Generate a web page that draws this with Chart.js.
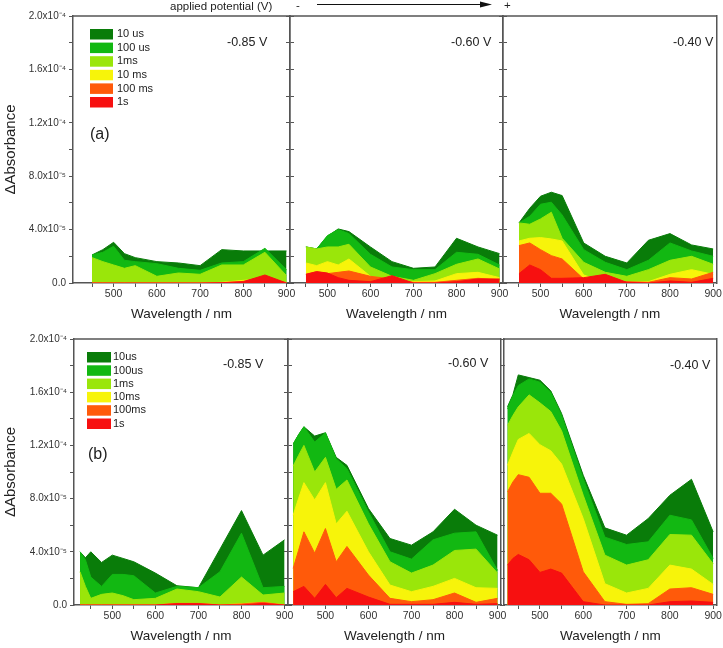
<!DOCTYPE html>
<html>
<head>
<meta charset="utf-8">
<script src="https://cdn.jsdelivr.net/npm/chart.js@4.4.1/dist/chart.umd.min.js"></script>
<style>
  body { margin: 0; background: #fff; }
  #wrap { position: relative; width: 723px; height: 648px; }
  #wrap canvas { position: absolute; left: 0; top: 0; }
</style>
</head>
<body>
<div id="wrap"></div>
<script>
// wavelengths (nm)
const wavelengthsA = [450, 475, 500, 525, 550, 600, 650, 700, 750, 800, 850, 900]
const wavelengthsB = [425, 437.5, 450, 475, 500, 525, 550, 600, 650, 700, 750, 800, 850, 900]

const seriesLabelsA = ['10 us', '100 us', '1ms', '10 ms', '100 ms', '1s']
const seriesLabelsB = ['10us', '100us', '1ms', '10ms', '100ms', '1s']
const seriesColors = ['#097c09', '#12b812', '#9ae60a', '#f7f40a', '#ff5a0a', '#f71010']

const xTickValues = [450, 500, 550, 600, 650, 700, 750, 800, 850, 900]
const yTickValues = [0, 2, 4, 6, 8, 10, 12, 14, 16, 18, 20]
const yTickLabels = ['0.0', '', '4.0x10⁻⁵', '', '8.0x10⁻⁵', '', '1.2x10⁻⁴', '', '1.6x10⁻⁴', '', '2.0x10⁻⁴']

// ΔAbsorbance, in units of 1e-5
// (a) -0.85 V
const a085_10us = [2.1, 2.5, 3.05, 2.2, 1.9, 1.6, 1.5, 1.3, 2.5, 2.4, 2.4, 2.4]
const a085_100us = [2.1, 2.3, 2.75, 1.7, 1.6, 1.45, 1.1, 0.95, 1.5, 1.6, 2.6, 1.0]
const a085_1ms = [1.9, 1.6, 1.35, 1.1, 1.3, 0.5, 0.75, 0.65, 1.35, 1.35, 2.3, 0.55]
const a085_10ms = [0, 0, 0, 0, 0, 0, 0, 0, 0.05, 0.2, 0.3, 0]
const a085_100ms = [0, 0, 0, 0, 0, 0, 0, 0, 0.02, 0.12, 0.5, 0]
const a085_1s = [0, 0, 0, 0, 0, 0, 0, 0, 0.02, 0.1, 0.6, 0]
// (a) -0.60 V
const a060_10us = [2.7, 2.55, 3.5, 4.05, 3.85, 2.7, 1.6, 1.1, 1.2, 3.35, 2.7, 2.2]
const a060_100us = [2.7, 2.55, 3.55, 4.0, 3.7, 2.15, 1.2, 1.0, 1.0, 2.3, 2.15, 1.35]
const a060_1ms = [2.7, 2.55, 2.7, 2.7, 2.9, 1.2, 0.5, 0.2, 0.7, 1.4, 1.8, 1.05]
const a060_10ms = [1.5, 1.3, 1.6, 1.35, 1.8, 0.5, 0.2, 0.1, 0.15, 0.7, 0.8, 0.4]
const a060_100ms = [0.65, 0.85, 0.7, 0.8, 0.9, 0.5, 0.3, 0.05, 0.05, 0.2, 0.35, 0.25]
const a060_1s = [0.65, 0.85, 0.75, 0.4, 0.2, 0.1, 0.55, 0, 0, 0.1, 0.3, 0.3]
// (a) -0.40 V
const a040_10us = [4.5, 5.6, 6.5, 6.8, 6.55, 3.0, 2.0, 1.5, 3.2, 3.7, 2.85, 2.55]
const a040_100us = [4.5, 5.0, 5.9, 6.05, 5.1, 2.5, 1.55, 1.0, 1.7, 3.0, 2.4, 2.0]
const a040_1ms = [4.5, 4.4, 4.8, 5.3, 3.35, 1.55, 0.8, 0.5, 1.0, 1.7, 2.0, 1.4]
const a040_10ms = [3.15, 3.35, 3.4, 3.3, 3.15, 0.6, 0.05, 0.05, 0.1, 0.65, 1.0, 0.65]
const a040_100ms = [2.8, 3.0, 2.5, 2.05, 1.8, 0.3, 0.15, 0.1, 0.05, 0.4, 0.3, 0.8]
const a040_1s = [0.7, 1.35, 1.0, 0.35, 0.35, 0.4, 0.65, 0.05, 0, 0.15, 0.05, 0.35]
// (b) -0.85 V
const b085_10us = [4.0, 3.55, 4.0, 3.2, 3.75, 3.5, 3.25, 2.4, 1.45, 1.3, 4.2, 7.1, 3.75, 4.9]
const b085_100us = [4.0, 3.4, 2.1, 1.4, 2.3, 2.3, 2.2, 0.9, 1.4, 1.3, 2.5, 5.4, 1.3, 1.4]
const b085_1ms = [2.5, 1.4, 0.5, 0.8, 0.9, 0.7, 0.4, 0.5, 1.2, 1.0, 0.6, 2.1, 0.75, 0.9]
const b085_10ms = [0, 0, 0, 0, 0, 0, 0, 0, 0.12, 0.12, 0, 0.1, 0.2, 0]
const b085_100ms = [0, 0, 0, 0, 0, 0, 0, 0, 0.12, 0.12, 0, 0.08, 0.2, 0]
const b085_1s = [0, 0, 0, 0, 0, 0, 0, 0, 0.1, 0.1, 0, 0, 0.12, 0]
// (b) -0.60 V
const b060_10us = [12.1, 12.8, 13.4, 12.7, 12.95, 11.1, 10.5, 7.25, 5.0, 4.5, 5.5, 7.2, 6.0, 5.25]
const b060_100us = [12.1, 12.8, 13.4, 12.25, 12.95, 11.0, 10.25, 7.0, 4.0, 3.45, 4.9, 5.4, 5.5, 2.6]
const b060_1ms = [10.45, 11.25, 12.0, 10.0, 11.1, 8.7, 9.4, 6.1, 3.25, 2.4, 3.0, 4.1, 4.2, 2.4]
const b060_10ms = [6.75, 8.0, 9.2, 7.9, 9.2, 6.1, 7.05, 4.0, 1.5, 1.0, 1.4, 2.0, 1.3, 1.25]
const b060_100ms = [2.75, 4.1, 5.5, 3.9, 5.75, 3.25, 4.4, 2.25, 0.5, 0.25, 0.4, 0.9, 0.2, 0.5]
const b060_1s = [1.0, 1.2, 1.4, 0.5, 1.55, 0.55, 1.25, 0.6, 0.05, 0.05, 0.05, 0.2, 0.05, 0.1]
// (b) -0.40 V
const b040_10us = [14.9, 15.8, 17.3, 17.1, 16.9, 16.1, 14.4, 9.75, 5.8, 5.25, 6.5, 8.25, 9.45, 5.5]
const b040_100us = [14.75, 15.75, 16.5, 17.0, 16.75, 16.0, 14.25, 9.5, 5.1, 4.55, 4.75, 6.75, 6.4, 3.5]
const b040_1ms = [13.5, 14.25, 14.9, 15.8, 15.2, 14.55, 13.1, 8.25, 3.75, 3.0, 3.4, 5.3, 5.25, 3.1]
const b040_10ms = [10.5, 11.5, 12.45, 12.9, 12.05, 11.6, 10.6, 6.5, 1.6, 0.9, 1.25, 3.0, 2.7, 1.55]
const b040_100ms = [8.5, 9.25, 9.8, 9.6, 8.4, 8.4, 7.6, 2.5, 0.25, 0.05, 0.1, 1.2, 1.3, 0.8]
const b040_1s = [3.0, 3.5, 3.8, 3.4, 2.45, 2.7, 2.4, 0.25, 0, 0, 0, 0.25, 0.3, 0.2]

const fontFamily = "'Liberation Sans', Arial, sans-serif"
const axisColor = '#555'
const textColor = '#222'
Chart.defaults.font.family = fontFamily
Chart.defaults.color = textColor

const PAGE_W = 723
const PAGE_H = 648

// layout of the six panels (plot rectangles in page pixels)
const panels = [
  {
    rect: [73, 16, 290, 283], xMin: 406, x: wavelengthsA, labels: seriesLabelsA,
    series: [a085_10us, a085_100us, a085_1ms, a085_10ms, a085_100ms, a085_1s],
    first: true, rightTicks: true, potential: '-0.85 V', potentialAt: [227, 43],
    tag: '(a)', tagAt: [90, 135], legend: { x: 90, y: 29, w: 23, h: 10.5, step: 13.6, tx: 117 },
    header: true
  },
  {
    rect: [290, 16, 503, 283], xMin: 413, x: wavelengthsA, labels: seriesLabelsA,
    series: [a060_10us, a060_100us, a060_1ms, a060_10ms, a060_100ms, a060_1s],
    rightTicks: true, potential: '-0.60 V', potentialAt: [451, 43]
  },
  {
    rect: [503, 16, 717, 283], xMin: 413, x: wavelengthsA, labels: seriesLabelsA,
    series: [a040_10us, a040_100us, a040_1ms, a040_10ms, a040_100ms, a040_1s],
    potential: '-0.40 V', potentialAt: [673, 43]
  },
  {
    rect: [74, 339, 288, 605], xMin: 411, x: wavelengthsB, labels: seriesLabelsB,
    series: [b085_10us, b085_100us, b085_1ms, b085_10ms, b085_100ms, b085_1s],
    first: true, rightTicks: true, potential: '-0.85 V', potentialAt: [223, 365],
    tag: '(b)', tagAt: [88, 455], legend: { x: 87, y: 352, w: 24, h: 10.5, step: 13.3, tx: 113 }
  },
  {
    rect: [288, 339, 501, 605], xMin: 413, x: wavelengthsB, labels: seriesLabelsB,
    series: [b060_10us, b060_100us, b060_1ms, b060_10ms, b060_100ms, b060_1s],
    rightTicks: true, potential: '-0.60 V', potentialAt: [448, 364]
  },
  {
    rect: [504, 339, 717, 605], xMin: 417, x: wavelengthsB, labels: seriesLabelsB,
    series: [b040_10us, b040_100us, b040_1ms, b040_10ms, b040_100ms, b040_1s],
    potential: '-0.40 V', potentialAt: [670, 366]
  }
]

function drawDecor (chart, p) {
  const ctx = chart.ctx
  const area = chart.chartArea
  ctx.save()
  // top frame line
  ctx.strokeStyle = axisColor
  ctx.lineWidth = 1.5
  ctx.beginPath()
  ctx.moveTo(area.left, area.top)
  ctx.lineTo(area.right, area.top)
  ctx.stroke()

  ctx.fillStyle = textColor
  ctx.textBaseline = 'middle'
  ctx.textAlign = 'left'
  ctx.font = '12.5px ' + fontFamily
  ctx.fillText(p.potential, p.potentialAt[0], p.potentialAt[1])

  if (p.tag) {
    ctx.font = '16px ' + fontFamily
    ctx.fillText(p.tag, p.tagAt[0], p.tagAt[1])
  }

  if (p.legend) {
    const lg = p.legend
    ctx.font = '11px ' + fontFamily
    p.labels.forEach((label, i) => {
      const y = lg.y + i * lg.step
      ctx.fillStyle = seriesColors[i]
      ctx.fillRect(lg.x, y, lg.w, lg.h)
      ctx.fillStyle = textColor
      ctx.fillText(label, lg.tx, y + lg.h / 2)
    })
  }

  if (p.header) {
    ctx.font = '11.5px ' + fontFamily
    ctx.fillText('applied potential (V)', 170, 7)
    ctx.fillText('-', 296, 6)
    ctx.fillText('+', 504, 6)
    ctx.strokeStyle = '#111'
    ctx.lineWidth = 1
    ctx.beginPath()
    ctx.moveTo(317, 4.5)
    ctx.lineTo(483, 4.5)
    ctx.stroke()
    ctx.fillStyle = '#111'
    ctx.beginPath()
    ctx.moveTo(480, 1.5)
    ctx.lineTo(492, 4.5)
    ctx.lineTo(480, 7.5)
    ctx.closePath()
    ctx.fill()
  }
  ctx.restore()
}

const wrap = document.getElementById('wrap')

panels.forEach((p) => {
  const canvas = document.createElement('canvas')
  canvas.width = PAGE_W
  canvas.height = PAGE_H
  wrap.appendChild(canvas)

  const [l, t, r, b] = p.rect
  const yW = p.first ? l : 8
  const y2W = 8
  const xH = 40

  const datasets = p.series.map((vals, i) => ({
    label: p.labels[i],
    data: p.x.map((w, k) => ({ x: w, y: vals[k] })),
    backgroundColor: seriesColors[i],
    borderColor: seriesColors[i],
    borderWidth: 1,
    pointRadius: 0,
    fill: 'origin',
    tension: 0,
    order: p.series.length - i
  }))

  new Chart(canvas, {
    type: 'line',
    data: { datasets },
    options: {
      responsive: false,
      animation: false,
      devicePixelRatio: 1,
      layout: {
        padding: { left: l - yW, top: t, right: PAGE_W - r - y2W, bottom: PAGE_H - b - xH }
      },
      plugins: {
        legend: { display: false },
        tooltip: { enabled: false }
      },
      scales: {
        x: {
          type: 'linear',
          min: p.xMin,
          max: 908,
          afterBuildTicks: (s) => { s.ticks = xTickValues.map(v => ({ value: v })) },
          afterFit: (s) => { s.height = xH },
          ticks: {
            callback: (v) => (v % 100 === 0 ? String(v) : ''),
            autoSkip: false,
            maxRotation: 0,
            padding: 1,
            font: { size: 10.5 },
            color: '#333'
          },
          grid: { drawOnChartArea: false, tickLength: 4, color: axisColor, lineWidth: 1 },
          border: { color: axisColor, width: 1.5 },
          title: {
            display: true,
            text: 'Wavelength / nm',
            font: { size: 13.5 },
            color: textColor,
            padding: { top: 0, bottom: 1 }
          }
        },
        y: {
          position: 'left',
          min: 0,
          max: 20,
          afterBuildTicks: (s) => { s.ticks = yTickValues.map(v => ({ value: v })) },
          afterFit: (s) => { s.width = yW },
          ticks: {
            display: !!p.first,
            callback: (v, i) => yTickLabels[i],
            autoSkip: false,
            padding: 3,
            font: { size: 10 },
            color: '#333'
          },
          grid: { drawOnChartArea: false, tickLength: 4, color: axisColor, lineWidth: 1 },
          border: { color: axisColor, width: 1.5 },
          title: {
            display: !!p.first,
            text: 'ΔAbsorbance',
            font: { size: 15 },
            color: textColor,
            padding: { top: 2, bottom: 0 }
          }
        },
        y2: {
          position: 'right',
          min: 0,
          max: 20,
          afterBuildTicks: (s) => { s.ticks = yTickValues.map(v => ({ value: v })) },
          afterFit: (s) => { s.width = y2W },
          ticks: { display: false },
          grid: { drawOnChartArea: false, drawTicks: !!p.rightTicks, tickLength: 4, color: axisColor, lineWidth: 1 },
          border: { color: axisColor, width: 1.5 }
        }
      }
    },
    plugins: [{ id: 'decor', afterDraw: (chart) => drawDecor(chart, p) }]
  })
})
</script>
</body>
</html>
